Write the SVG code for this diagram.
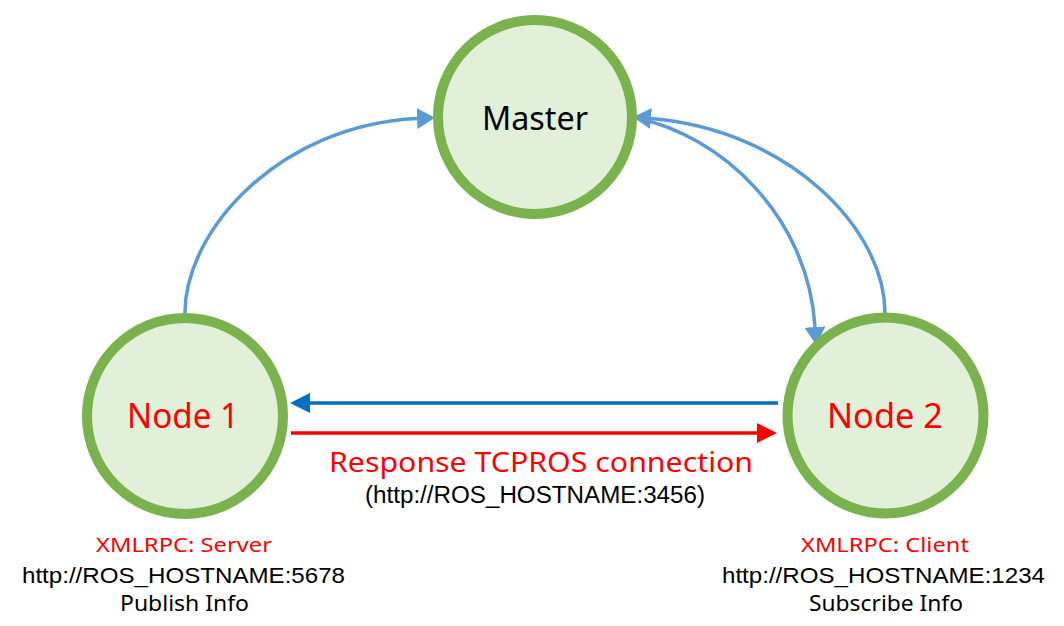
<svg xmlns="http://www.w3.org/2000/svg" width="1064" height="626" viewBox="0 0 1064 626">
<style>
.node{fill:#E2F0D9;stroke:#7AB24E;stroke-width:10}
.t{font-family:"Noto Sans","Open Sans","DejaVu Sans",sans-serif;text-anchor:middle}
.a{font-family:"Liberation Sans",Arial,sans-serif;text-anchor:middle;fill:#000}
.curve{fill:none;stroke:#5B9BD5;stroke-width:3.5}
.red{fill:#FF0000}
</style>
<defs>
<marker id="mc" markerUnits="userSpaceOnUse" markerWidth="20" markerHeight="22" refX="0" refY="10.5" orient="auto">
<path d="M0,0 L18,10.5 L0,21 z" fill="#5B9BD5"/>
</marker>
<marker id="mb" markerUnits="userSpaceOnUse" markerWidth="22" markerHeight="22" refX="0" refY="10" orient="auto">
<path d="M0,0 L20,10 L0,20 z" fill="#0070C0"/>
</marker>
<marker id="mr" markerUnits="userSpaceOnUse" markerWidth="22" markerHeight="22" refX="0" refY="10" orient="auto">
<path d="M0,0 L20,10 L0,20 z" fill="#FF0000"/>
</marker>
</defs>
<rect width="1064" height="626" fill="#FFFFFF"/>
<g id="connectors">
<path class="curve" d="M185,313 C185,230 280,125 417,118.5" marker-end="url(#mc)"/>
<path class="curve" d="M885,313 C885,230 790,130 651,118.5" marker-end="url(#mc)"/>
<path class="curve" d="M636,118 C720,135 808,215 815,327" marker-end="url(#mc)"/>
<path d="M778,403 L310,403" stroke="#0070C0" stroke-width="3.5" fill="none" marker-end="url(#mb)"/>
<path d="M291,433 L757,433" stroke="#FF0000" stroke-width="3.5" fill="none" marker-end="url(#mr)"/>
</g>
<g id="master">
<circle class="node" cx="535" cy="117" r="97"/>
<text class="t" x="535" y="130" font-size="33" textLength="106" lengthAdjust="spacingAndGlyphs" fill="#000">Master</text>
</g>
<g id="node1">
<circle class="node" cx="185" cy="416" r="98"/>
<text class="t red" x="183" y="428" font-size="34" textLength="112" lengthAdjust="spacingAndGlyphs">Node 1</text>
</g>
<g id="node2">
<circle class="node" cx="885.5" cy="415.5" r="98"/>
<text class="t red" x="885" y="428" font-size="34" textLength="116" lengthAdjust="spacingAndGlyphs">Node 2</text>
</g>
<g id="connection-label">
<text class="t red" x="541" y="472" font-size="28" textLength="424" lengthAdjust="spacingAndGlyphs">Response TCPROS connection</text>
<text class="a" x="535" y="503" font-size="23" textLength="340" lengthAdjust="spacingAndGlyphs">(http://ROS_HOSTNAME:3456)</text>
</g>
<g id="node1-info">
<text class="t red" x="184" y="552" font-size="20" textLength="176" lengthAdjust="spacingAndGlyphs">XMLRPC: Server</text>
<text class="a" x="183.5" y="583" font-size="22" textLength="323" lengthAdjust="spacingAndGlyphs">http://ROS_HOSTNAME:5678</text>
<text class="t" x="184.5" y="611" font-size="22" textLength="129" lengthAdjust="spacingAndGlyphs" fill="#000">Publish Info</text>
</g>
<g id="node2-info">
<text class="t red" x="885" y="552" font-size="20" textLength="168" lengthAdjust="spacingAndGlyphs">XMLRPC: Client</text>
<text class="a" x="883.5" y="583" font-size="22" textLength="323" lengthAdjust="spacingAndGlyphs">http://ROS_HOSTNAME:1234</text>
<text class="t" x="886" y="611" font-size="22" textLength="154" lengthAdjust="spacingAndGlyphs" fill="#000">Subscribe Info</text>
</g>
</svg>
